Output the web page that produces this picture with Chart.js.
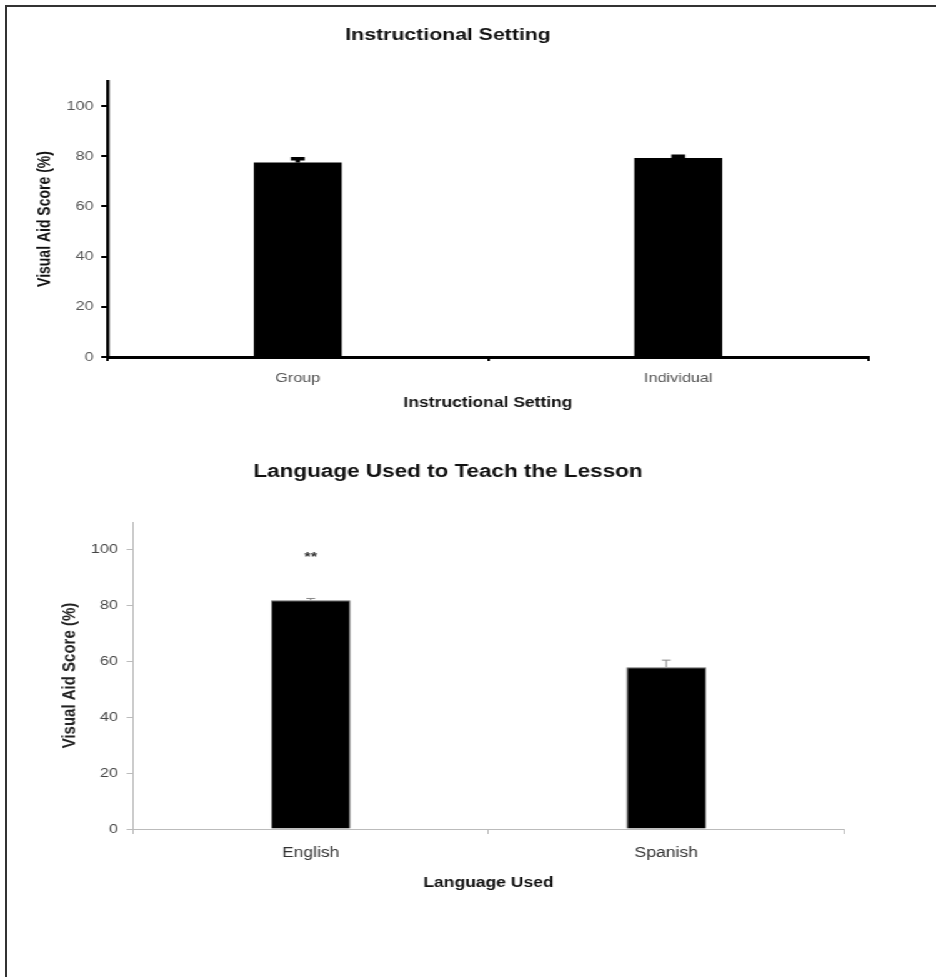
<!DOCTYPE html>
<html><head><meta charset="utf-8">
<script src="https://cdn.jsdelivr.net/npm/chart.js@4.4.0/dist/chart.umd.min.js"></script>
<style>
html,body{margin:0;padding:0;background:#fff;width:936px;height:977px;overflow:hidden;position:relative;}
#frame{position:absolute;left:5px;top:5px;width:1000px;height:1000px;border-top:2px solid #333;border-left:2px solid #333;}
#stretch{position:absolute;left:0;top:0;width:717px;height:900px;transform:scaleX(1.2497);transform-origin:0 0;}
#c1{position:absolute;left:0;top:0;}
#c2{position:absolute;left:0;top:430px;}
</style></head><body>
<div id="frame"></div>
<div id="stretch">
<canvas id="c1" width="717" height="420"></canvas>
<canvas id="c2" width="717" height="470"></canvas>
</div>
<script>
// ---- data ----
const settingLabels = ['Group', 'Individual'];
const settingScores = [77.5, 79.3];
const settingErrors = [1.5, 0.7];
const languageLabels = ['English', 'Spanish'];
const languageScores = [82, 58];
const languageErrors = [0.6, 2.5];
const languageMarks = ['**', ''];
const yTicks = [0, 20, 40, 60, 80, 100];

const F = "'Liberation Sans', Arial, Helvetica, sans-serif";

const errorBarPlugin = {
  id: 'errorBars',
  afterDatasetsDraw(chart, args, opts) {
    const ctx = chart.ctx;
    const y = chart.scales.y;
    const meta = chart.getDatasetMeta(0);
    const vals = chart.data.datasets[0].data;
    ctx.save();
    meta.data.forEach((bar, i) => {
      const v = vals[i], e = opts.errors[i];
      const cx = bar.x;
      const y0 = y.getPixelForValue(v), y1 = y.getPixelForValue(v + e);
      ctx.strokeStyle = opts.color;
      ctx.lineWidth = opts.lineWidth;
      ctx.beginPath();
      ctx.moveTo(cx, y0); ctx.lineTo(cx, y1);
      ctx.moveTo(cx - opts.capWidth / 2, y1); ctx.lineTo(cx + opts.capWidth / 2, y1);
      ctx.stroke();
      if (opts.marks && opts.marks[i]) {
        ctx.fillStyle = opts.markColor;
        ctx.font = opts.markFont;
        ctx.textAlign = 'center';
        ctx.textBaseline = 'middle';
        ctx.fillText(opts.marks[i], cx, y1 - opts.markOffset);
      }
    });
    ctx.restore();
  }
};

function setTicks(s) { s.ticks = yTicks.map(v => ({ value: v })); }
function spacer(w) {
  return { position: 'right', display: true, min: 0, max: 1,
    grid: { display: false }, border: { display: false }, ticks: { display: false },
    afterFit: s => { s.width = w; } };
}

new Chart(document.getElementById('c1'), {
  type: 'bar',
  data: {
    labels: settingLabels,
    datasets: [{ data: settingScores, backgroundColor: '#000', borderWidth: 0,
      barPercentage: 0.231, categoryPercentage: 1 }]
  },
  options: {
    responsive: false, animation: false, devicePixelRatio: 1,
    layout: { padding: { left: 0, right: 0, top: 0, bottom: 3 } },
    plugins: {
      legend: { display: false }, tooltip: { enabled: false },
      title: { display: true, text: 'Instructional Setting', color: '#111',
        font: { family: F, size: 17, weight: 'bold' }, padding: { top: 24.8, bottom: 35.8 } },
      errorBars: { errors: settingErrors, color: '#000', lineWidth: 3.5, capWidth: 11 }
    },
    scales: {
      x: {
        afterFit: s => { s.height = 60; },
        grid: { display: true, offset: true, drawOnChartArea: false, drawTicks: true, tickLength: 4, color: '#000', lineWidth: 2 },
        border: { display: true, color: '#000', width: 3 },
        ticks: { padding: 10, color: '#555', font: { family: F, size: 13 } },
        title: { display: true, text: 'Instructional Setting', color: '#111',
          font: { family: F, size: 14, weight: 'bold' }, padding: { top: 0, bottom: 5.6 } }
      },
      y: {
        min: 0, max: 110,
        afterBuildTicks: setTicks,
        afterFit: s => { s.width = 86; },
        grid: { display: true, drawOnChartArea: false, drawTicks: true, tickLength: 5, color: '#000', lineWidth: 2 },
        border: { display: true, color: '#000', width: 2.6 },
        ticks: { padding: 6, color: '#555', font: { family: F, size: 13 } },
        title: { display: true, text: 'Visual Aid Score (%)', color: '#111',
          font: { family: F, size: 14, weight: 'bold' }, padding: { top: 27.6, bottom: 0 } }
      },
      yr: spacer(22)
    }
  },
  plugins: [errorBarPlugin]
});

new Chart(document.getElementById('c2'), {
  type: 'bar',
  data: {
    labels: languageLabels,
    datasets: [{ data: languageScores, backgroundColor: '#000', borderColor: '#666', borderWidth: 1,
      barPercentage: 0.224, categoryPercentage: 1 }]
  },
  options: {
    responsive: false, animation: false, devicePixelRatio: 1,
    layout: { padding: { left: 0, right: 0, top: 0, bottom: 5 } },
    plugins: {
      legend: { display: false }, tooltip: { enabled: false },
      title: { display: true, text: 'Language Used to Teach the Lesson', color: '#111',
        font: { family: F, size: 18, weight: 'bold' }, padding: { top: 31.2, bottom: 39.2 } },
      errorBars: { errors: languageErrors, color: '#888', lineWidth: 1, capWidth: 7,
        marks: languageMarks, markColor: '#333', markFont: "bold 13px " + F, markOffset: 41 }
    },
    scales: {
      x: {
        afterFit: s => { s.height = 66; },
        grid: { display: true, offset: true, drawOnChartArea: false, drawTicks: true, tickLength: 5, color: '#bbb', lineWidth: 1 },
        border: { display: true, color: '#bbb', width: 1 },
        ticks: { padding: 11, color: '#333', font: { family: F, size: 14 } },
        title: { display: true, text: 'Language Used', color: '#111',
          font: { family: F, size: 14, weight: 'bold' }, padding: { top: 0, bottom: 3.6 } }
      },
      y: {
        min: 0, max: 110,
        afterBuildTicks: setTicks,
        afterFit: s => { s.width = 106.4; },
        grid: { display: true, drawOnChartArea: false, drawTicks: true, tickLength: 5, color: '#bbb', lineWidth: 1 },
        border: { display: true, color: '#bbb', width: 1 },
        ticks: { padding: 7, color: '#444', font: { family: F, size: 13 } },
        title: { display: true, text: 'Visual Aid Score (%)', color: '#222',
          font: { family: F, size: 15, weight: 'bold' }, padding: { top: 47, bottom: 0 } }
      },
      yr: spacer(41.6)
    }
  },
  plugins: [errorBarPlugin]
});
</script>
</body></html>
